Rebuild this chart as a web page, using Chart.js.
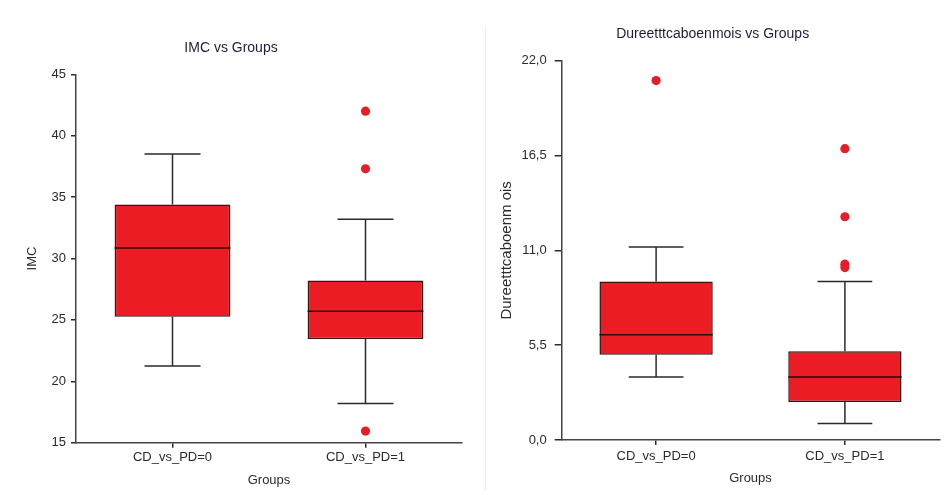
<!DOCTYPE html>
<html>
<head>
<meta charset="utf-8">
<script src="https://cdn.jsdelivr.net/npm/chart.js@4.4.1/dist/chart.umd.min.js"></script>
<style>
  body { margin: 0; background: #fff; width: 947px; height: 495px; position: relative; overflow: hidden; }
  #c1 { position: absolute; left: 0; top: 0; }
  #c2 { position: absolute; left: 486px; top: 0; }
  #sep { position: absolute; left: 485px; top: 27px; width: 1px; height: 463px; background: #ececec; }
</style>
</head>
<body>
<canvas id="c1" width="485" height="495"></canvas>
<div id="sep"></div>
<canvas id="c2" width="461" height="495"></canvas>
<script>
const groups = ['CD_vs_PD=0', 'CD_vs_PD=1'];

// IMC
const imcLow = [21.25, 18.2];
const imcQ1 = [25.25, 23.45];
const imcMedian = [30.85, 25.7];
const imcQ3 = [34.4, 28.2];
const imcHigh = [38.5, 33.2];
const imcOutliers = [
  { x: 'CD_vs_PD=1', y: 42.0 },
  { x: 'CD_vs_PD=1', y: 37.3 },
  { x: 'CD_vs_PD=1', y: 15.95 }
];
const imcTicks = [15, 20, 25, 30, 35, 40, 45];

// Dureetttcaboenmois
const durLow = [3.65, 0.95];
const durQ1 = [4.95, 2.2];
const durMedian = [6.1, 3.65];
const durQ3 = [9.2, 5.15];
const durHigh = [11.2, 9.2];
const durOutliers = [
  { x: 'CD_vs_PD=0', y: 20.85 },
  { x: 'CD_vs_PD=1', y: 16.9 },
  { x: 'CD_vs_PD=1', y: 12.95 },
  { x: 'CD_vs_PD=1', y: 10.2 },
  { x: 'CD_vs_PD=1', y: 10.0 }
];
const durTicks = [0, 5.5, 11, 16.5, 22];

const red = '#ec1c24';
const ink = '#2b2b2b';
const fontFamily = '"Liberation Sans", Arial, sans-serif';

// draws whiskers, caps and median lines from the plugin options
const boxLines = {
  id: 'boxLines',
  beforeDatasetsDraw(chart, args, opts) {
    const ctx = chart.ctx, x = chart.scales.x, y = chart.scales.y;
    const catW = x.getPixelForValue(1) - x.getPixelForValue(0);
    ctx.save();
    ctx.strokeStyle = ink;
    ctx.lineWidth = 1.5;
    opts.low.forEach((lo, i) => {
      const cx = x.getPixelForValue(i);
      const half = catW * 0.145;
      ctx.beginPath();
      ctx.moveTo(cx, y.getPixelForValue(opts.high[i]));
      ctx.lineTo(cx, y.getPixelForValue(opts.q3[i]));
      ctx.moveTo(cx, y.getPixelForValue(opts.q1[i]));
      ctx.lineTo(cx, y.getPixelForValue(lo));
      ctx.moveTo(cx - half, y.getPixelForValue(opts.high[i]));
      ctx.lineTo(cx + half, y.getPixelForValue(opts.high[i]));
      ctx.moveTo(cx - half, y.getPixelForValue(lo));
      ctx.lineTo(cx + half, y.getPixelForValue(lo));
      ctx.stroke();
    });
    ctx.restore();
  },
  afterDatasetsDraw(chart, args, opts) {
    const ctx = chart.ctx, x = chart.scales.x, y = chart.scales.y;
    const catW = x.getPixelForValue(1) - x.getPixelForValue(0);
    ctx.save();
    ctx.strokeStyle = '#2a0a0a';
    ctx.lineWidth = 1.5;
    opts.median.forEach((m, i) => {
      const cx = x.getPixelForValue(i);
      const half = catW * 0.3;
      ctx.beginPath();
      ctx.moveTo(cx - half, y.getPixelForValue(m));
      ctx.lineTo(cx + half, y.getPixelForValue(m));
      ctx.stroke();
    });
    ctx.restore();
  }
};

function makeChart(id, cfg) {
  const boxes = cfg.q1.map((v, i) => [v, cfg.q3[i]]);
  return new Chart(document.getElementById(id), {
    type: 'bar',
    data: {
      labels: groups,
      datasets: [
        {
          type: 'bar',
          data: boxes,
          backgroundColor: red,
          borderColor: '#3a1010',
          borderWidth: 1.5,
          borderSkipped: false,
          barPercentage: 0.6,
          categoryPercentage: 1,
          order: 2
        },
        {
          type: 'line',
          data: cfg.outliers,
          showLine: false,
          pointRadius: 4.6,
          pointBackgroundColor: '#e3202a',
          pointBorderWidth: 0,
          order: 1
        }
      ]
    },
    options: {
      responsive: false,
      animation: false,
      layout: { padding: cfg.padding },
      plugins: {
        legend: { display: false },
        tooltip: { enabled: false },
        title: {
          display: true,
          text: cfg.title,
          color: '#1e1e3c',
          font: { family: fontFamily, size: 14, weight: 'normal' },
          padding: cfg.titlePad
        },
        boxLines: { low: cfg.low, q1: cfg.q1, median: cfg.median, q3: cfg.q3, high: cfg.high }
      },
      scales: {
        x: {
          type: 'category',
          offset: true,
          grid: { display: true, offset: false, drawOnChartArea: false, drawTicks: true, tickLength: 5, color: ink, lineWidth: 1.5 },
          border: { display: true, color: '#444', width: 1.5 },
          ticks: { color: ink, padding: cfg.xTickPad, font: { family: fontFamily, size: 13 } },
          title: { display: true, text: 'Groups', color: ink, font: { family: fontFamily, size: 13 }, padding: { top: 0, bottom: cfg.xTitleBottom } },
          afterFit: s => { s.height = cfg.xHeight; }
        },
        y: {
          min: cfg.ticks[0],
          max: cfg.ticks[cfg.ticks.length - 1],
          afterBuildTicks: s => { s.ticks = cfg.ticks.map(v => ({ value: v })); },
          grid: { display: true, drawOnChartArea: false, drawTicks: true, tickLength: cfg.tickLen, color: ink, lineWidth: 1.5 },
          border: { display: true, color: '#444', width: 1.5 },
          ticks: { color: ink, padding: cfg.tickPad, font: { family: fontFamily, size: 13 }, callback: cfg.fmt },
          title: { display: true, text: cfg.yTitle, color: ink, font: { family: fontFamily, size: cfg.yTitleSize }, padding: { top: cfg.yTitleTop, bottom: 0 } },
          afterFit: s => { s.width = cfg.yWidth; }
        }
      }
    },
    plugins: [boxLines]
  });
}

makeChart('c1', {
  title: 'IMC vs Groups', yTitle: 'IMC',
  low: imcLow, q1: imcQ1, median: imcMedian, q3: imcQ3, high: imcHigh, outliers: imcOutliers,
  ticks: imcTicks, fmt: v => String(v),
  padding: { left: 0, right: 23, top: 0, bottom: 0 },
  titlePad: { top: 39.6, bottom: 17.9 },
  yWidth: 76, xHeight: 52.3, tickLen: 5, tickPad: 5, xTickPad: 2,
  yTitleSize: 13, yTitleTop: 24.2, xTitleBottom: 7.2
});

makeChart('c2', {
  title: 'Dureetttcaboenmois vs Groups', yTitle: 'Dureetttcaboenm ois',
  low: durLow, q1: durQ1, median: durMedian, q3: durQ3, high: durHigh, outliers: durOutliers,
  ticks: durTicks, fmt: v => v.toFixed(1).replace('.', ','),
  padding: { left: 0, right: 7.7, top: 0, bottom: 0 },
  titlePad: { top: 25.6, bottom: 18.3 },
  yWidth: 75.7, xHeight: 55, tickLen: 7, tickPad: 8, xTickPad: 4,
  yTitleSize: 15, yTitleTop: 11.7, xTitleBottom: 8.5
});
</script>
</body>
</html>
